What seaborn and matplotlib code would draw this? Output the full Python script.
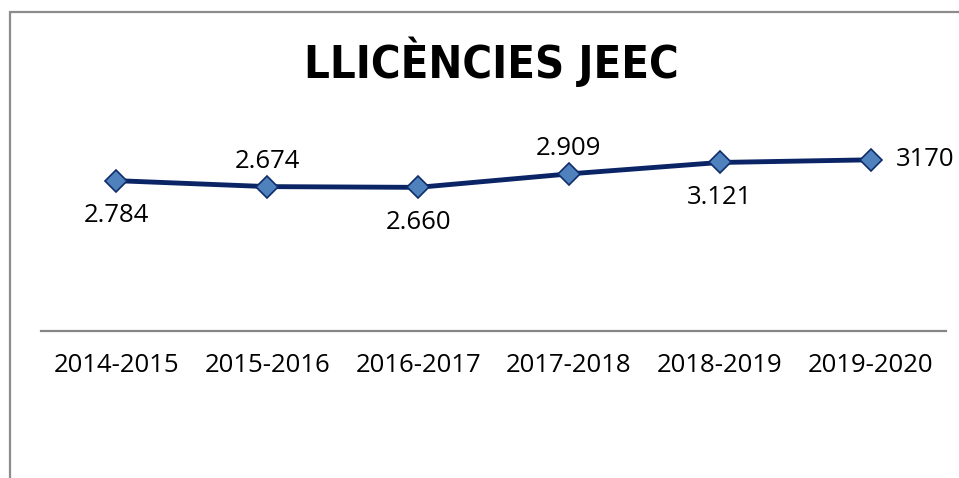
import numpy as np
import pandas as pd
import matplotlib
matplotlib.use("Agg")
import matplotlib.pyplot as plt
import seaborn as sns
from matplotlib.lines import Line2D

# data
seasons = ['2014-2015', '2015-2016', '2016-2017', '2017-2018', '2018-2019', '2019-2020']
licences = [2784, 2674, 2660, 2909, 3121, 3170]
value_labels = ['2.784', '2.674', '2.660', '2.909', '3.121', '3170']
label_pos = ['below', 'above', 'below', 'above', 'below', 'right']

df = pd.DataFrame({'season': seasons, 'licences': licences})

sns.set_style("white")
plt.rcParams['font.family'] = ['Open Sans', 'DejaVu Sans']
plt.rcParams['text.color'] = 'black'

fig = plt.figure(figsize=(9.59, 4.78), dpi=100)
ax = fig.add_axes([41 / 959, 147 / 478, 905 / 959, 189 / 478])

sns.lineplot(data=df, x='season', y='licences', ax=ax, color='#0a2466', linewidth=3.5,
             marker='D', markersize=11, markerfacecolor='#4f81bd',
             markeredgecolor='#0f2d6b', markeredgewidth=1.2)

ax.set_xlim(-0.5, 5.5)
ax.set_ylim(0, 3500)
ax.set_xlabel('')
ax.set_ylabel('')
ax.set_yticks([])
ax.tick_params(axis='x', length=0, pad=16, labelsize=18.5, colors='black')
for s in ['top', 'right', 'left']:
    ax.spines[s].set_visible(False)
ax.spines['bottom'].set_color('#868686')
ax.spines['bottom'].set_linewidth(1.6)

# data labels
for i, (v, lab, pos) in enumerate(zip(licences, value_labels, label_pos)):
    if pos == 'below':
        ax.annotate(lab, (i, v), xytext=(0, -25), textcoords='offset points',
                    ha='center', va='center', fontsize=18.5, color='black')
    elif pos == 'above':
        ax.annotate(lab, (i, v), xytext=(0, 18), textcoords='offset points',
                    ha='center', va='center', fontsize=18.5, color='black')
    else:
        ax.annotate(lab, (i, v), xytext=(18, 0), textcoords='offset points',
                    ha='left', va='center', fontsize=18.5, color='black')

fig.text(491 / 959, 1 - 62 / 478, 'LLICÈNCIES JEEC', ha='center', va='center',
         fontsize=32.5, fontweight='bold', fontstretch='condensed', color='black',
         family=['Liberation Sans Narrow', 'DejaVu Sans'])

# chart border (top and left edges visible)
fig.add_artist(Line2D([9.5 / 959, 9.5 / 959], [0, 1 - 12 / 478], color='#8c8c8c', linewidth=1.6))
fig.add_artist(Line2D([9.5 / 959, 1], [1 - 12 / 478, 1 - 12 / 478], color='#8c8c8c', linewidth=1.6))

fig.savefig('out.png', dpi=100)
